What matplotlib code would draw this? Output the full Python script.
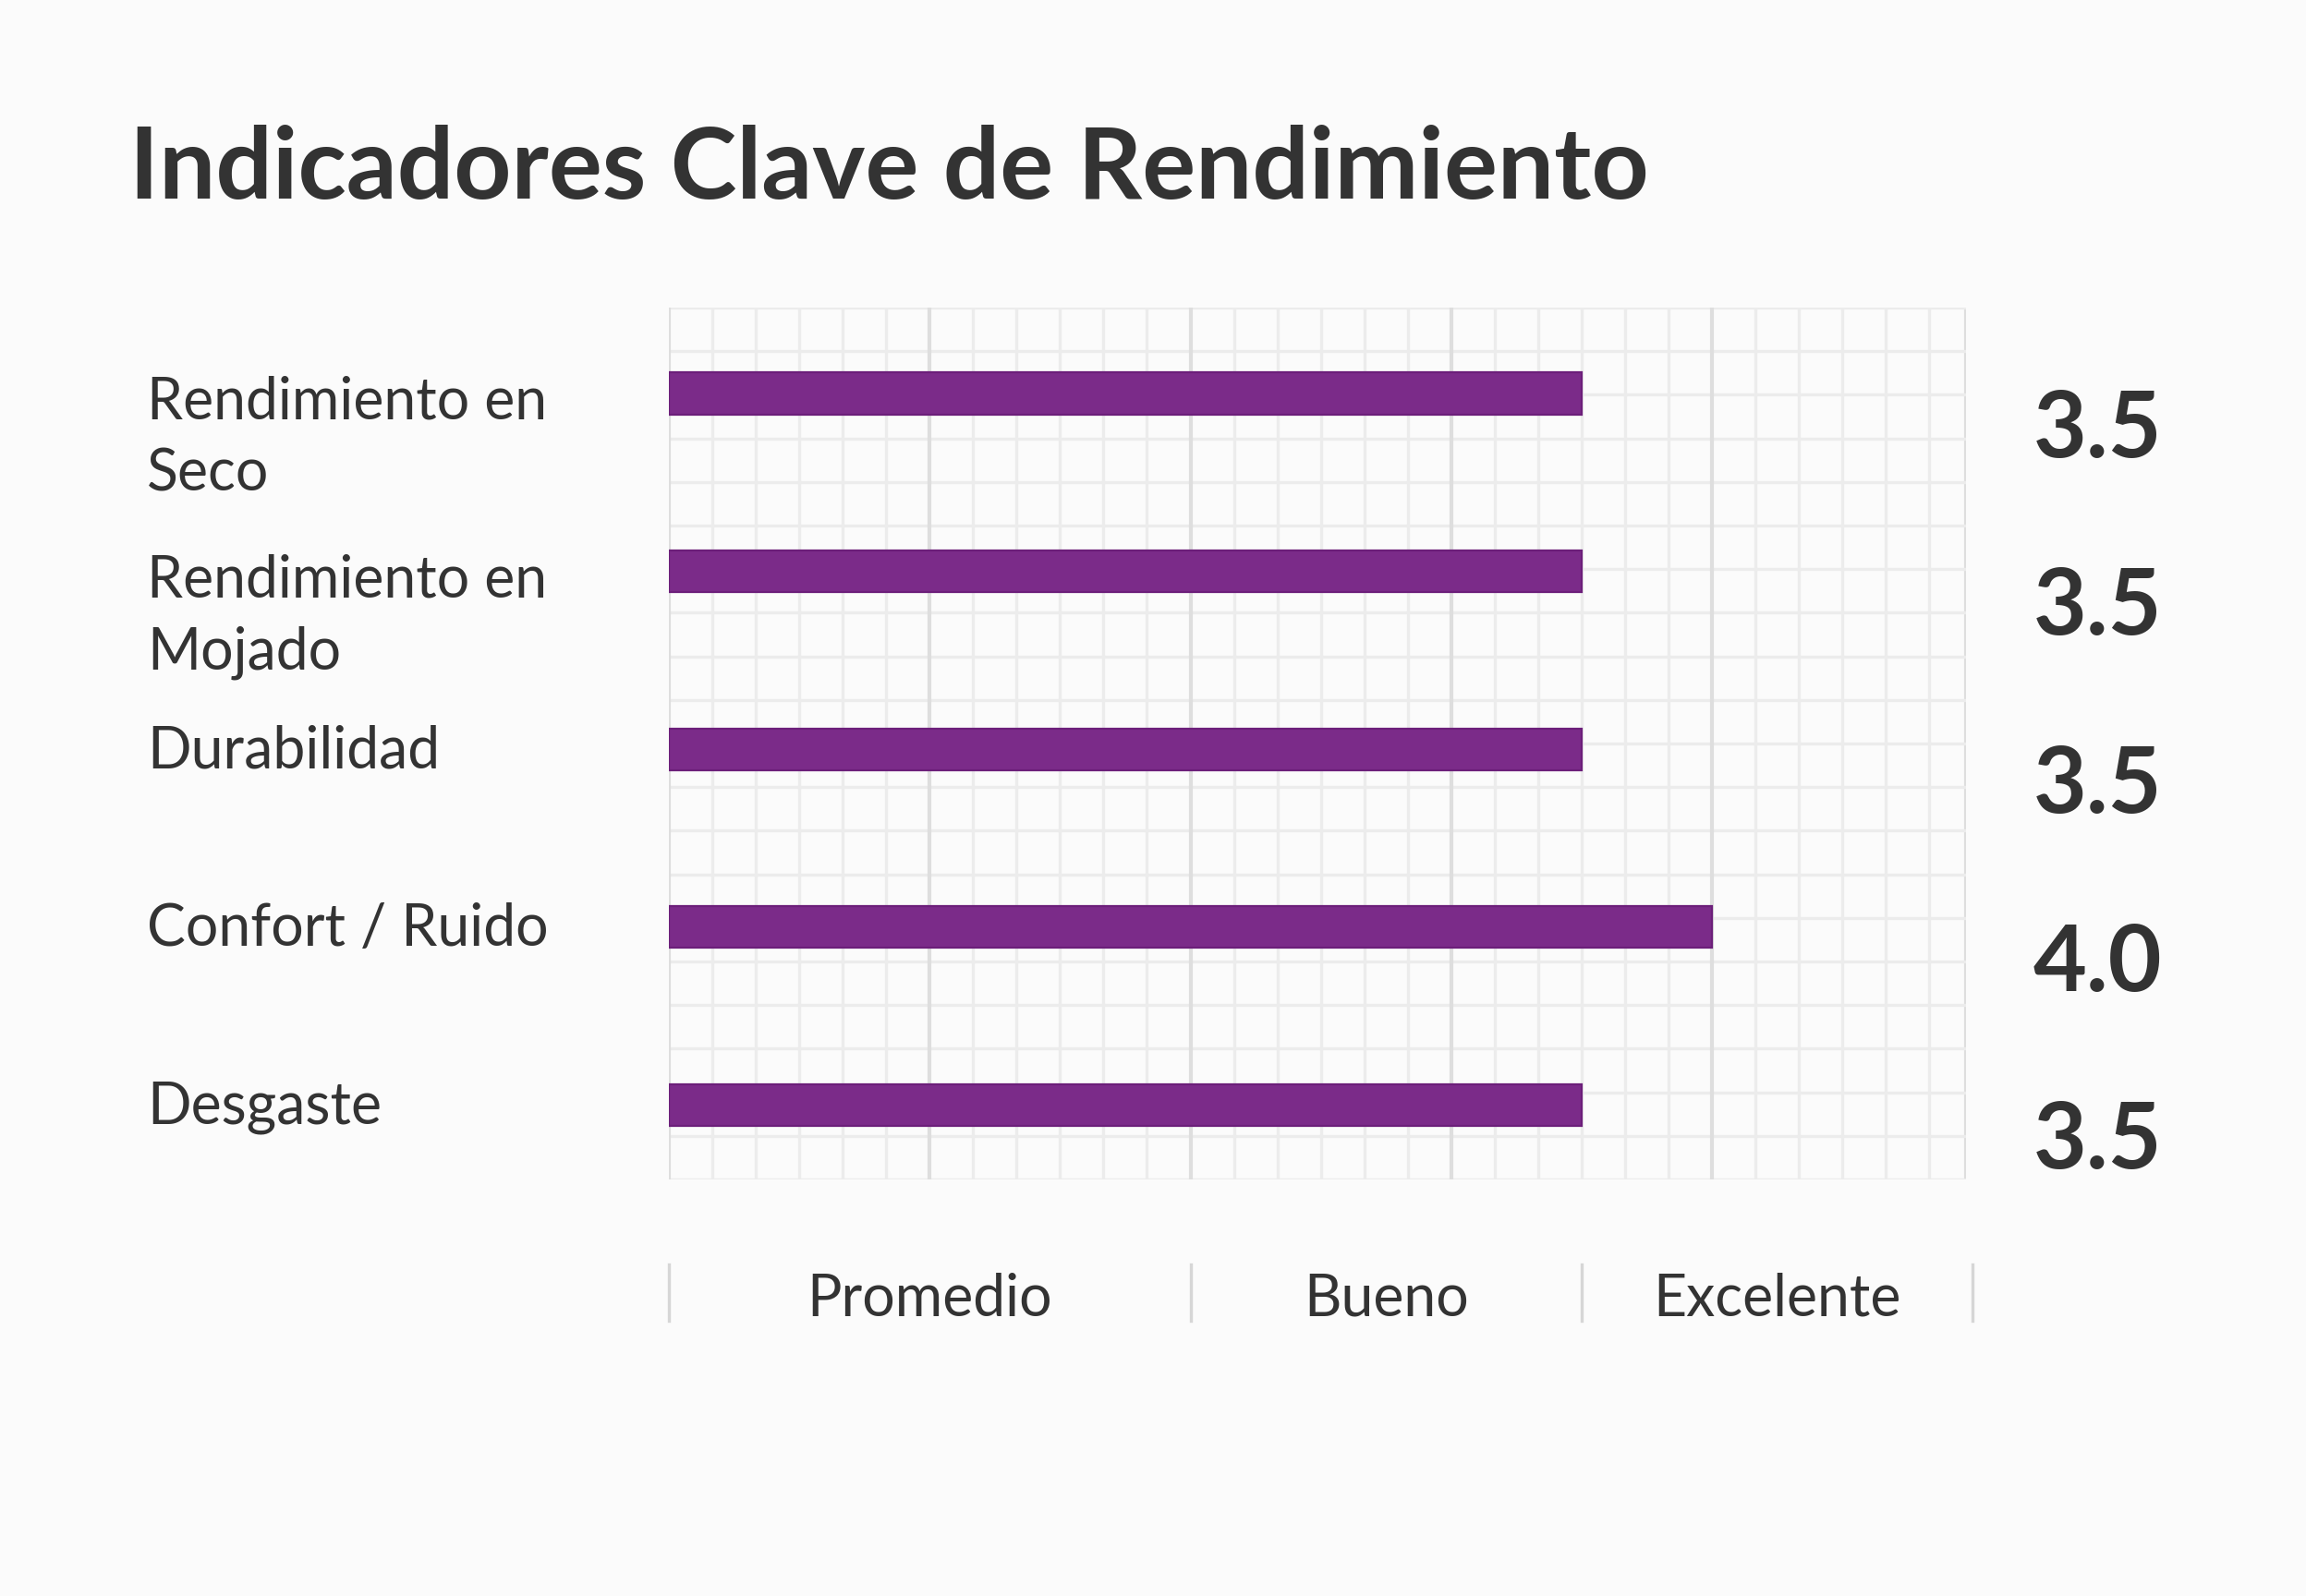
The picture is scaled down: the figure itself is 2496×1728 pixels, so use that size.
import numpy as np
import matplotlib
matplotlib.use("Agg")
import matplotlib.pyplot as plt
from matplotlib.ticker import MultipleLocator
from matplotlib.transforms import blended_transform_factory

plt.rcParams['font.family'] = ['Lato', 'DejaVu Sans']

# Data
categories = ['Rendimiento en\nSeco', 'Rendimiento en\nMojado', 'Durabilidad',
              'Confort / Ruido', 'Desgaste']
scores = [3.5, 3.5, 3.5, 4.0, 3.5]
rating_labels = ['Promedio', 'Bueno', 'Excelente']
rating_bounds = [0, 2, 3.5, 5]

TEXT = '#333333'
BAR = '#7B2B89'
BG = '#fbfbfb'

fig = plt.figure(figsize=(12.48, 8.64), dpi=200)
fig.patch.set_facecolor(BG)
ax = fig.add_axes([0.2901, 0.2610, 0.8526 - 0.2901, 0.8073 - 0.2610])
ax.set_facecolor(BG)

y = np.arange(len(categories))
xmax = 4.975
ytop, ybot = -0.483, 4.42
ax.set_xlim(0, xmax)
ax.set_ylim(ybot, ytop)

# graph-paper grid
ax.xaxis.set_major_locator(MultipleLocator(1))
ax.xaxis.set_minor_locator(MultipleLocator(1 / 6))
ax.grid(which='major', axis='x', color='#dedede', linewidth=1.5, zorder=0)
ax.grid(which='minor', axis='x', color='#ececec', linewidth=1.2, zorder=0)
ax.axvline(xmax, color='#dedede', linewidth=1.5, zorder=0)
for gy in np.linspace(ytop, ybot, 21):
    ax.axhline(gy, color='#ececec', linewidth=1.2, zorder=0)
ax.set_yticks([])
ax.tick_params(which='both', length=0, labelbottom=False)
for s in ax.spines.values():
    s.set_visible(False)

ax.barh(y, scores, height=0.234, color=BAR, edgecolor='#6c1f7a',
        linewidth=0.8, zorder=3)

# category labels (first line aligned with bar)
for yi, lab in zip(y, categories):
    n = lab.count('\n')
    ax.annotate(lab, xy=(0.0637, yi), xycoords=('figure fraction', 'data'),
                xytext=(0, -n * 16.6 - 1), textcoords='offset points',
                ha='left', va='center', fontsize=22.5, color=TEXT,
                linespacing=1.42)

# score values on right
for yi, v in zip(y, scores):
    ax.annotate(f'{v:.1f}', xy=(0.9095, yi + 0.21),
                xycoords=('figure fraction', 'data'),
                ha='center', va='center', fontsize=36, fontweight='bold',
                color=TEXT)

# rating scale below
sep_tr = blended_transform_factory(ax.transData, fig.transFigure)
for b in rating_bounds:
    ax.plot([b, b], [0.2078, 0.1725], color='#d6d6d6', linewidth=1.2,
            transform=sep_tr, clip_on=False)
for lab, lo, hi in zip(rating_labels, rating_bounds[:-1], rating_bounds[1:]):
    ax.annotate(lab, xy=((lo + hi) / 2, 0.1858), xycoords=('data', 'figure fraction'),
                ha='center', va='center', fontsize=22.5, color=TEXT)

fig.text(0.0561, 0.8756, 'Indicadores Clave de Rendimiento', ha='left',
         va='baseline', fontsize=39, fontweight='bold', color=TEXT)

fig.savefig('out.png', dpi=200, facecolor=BG)
